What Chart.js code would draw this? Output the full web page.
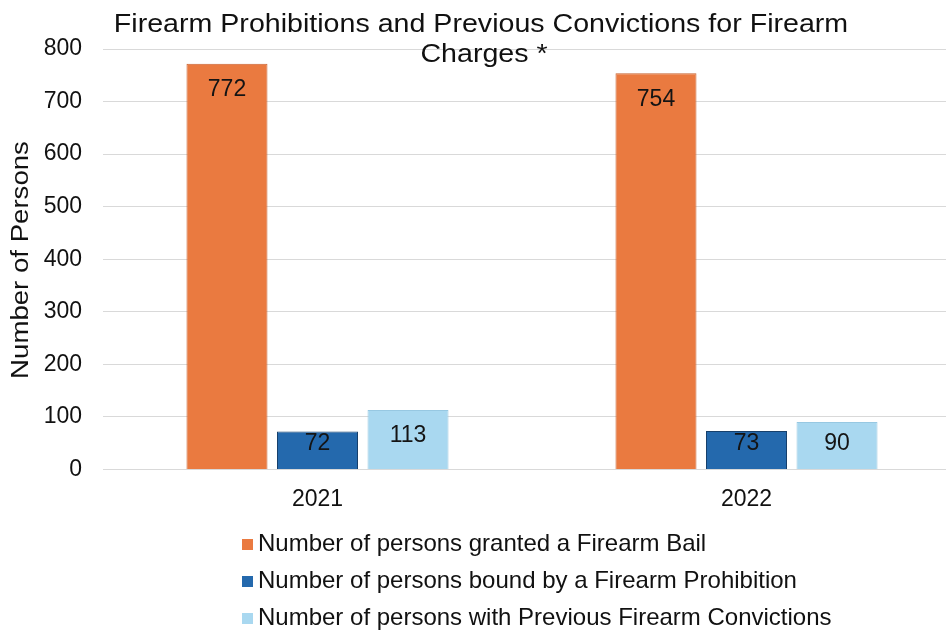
<!DOCTYPE html>
<html lang="en">
<head>
  <meta charset="UTF-8">
  <title>Firearm Prohibitions and Previous Convictions</title>
  <style>
    body {
      margin: 0;
      padding: 0;
      background: #ffffff;
      overflow: hidden;
    }
    .frame {
      width: 946px;
      height: 633px;
      overflow: hidden;
    }
    /* plot runs a little past the right edge of the frame */
    .chart-container {
      width: 961px;
      height: 633px;
      position: relative;
    }
  </style>
</head>
<body>
  <div class="frame">
    <div class="chart-container">
      <canvas id="barChart"></canvas>
    </div>
  </div>

  <script src="https://cdn.jsdelivr.net/npm/chart.js"></script>
  <script>
    const years = ['2021', '2022'];
    const seriesNames = [
      'Number of persons granted a Firearm Bail',
      'Number of persons bound by a Firearm Prohibition',
      'Number of persons with Previous Firearm Convictions'
    ];
    const bailCounts = [772, 754];
    const prohibitionCounts = [72, 73];
    const convictionCounts = [113, 90];
    const yTicks = [0, 100, 200, 300, 400, 500, 600, 700, 800];
    const titleLines = ['Firearm Prohibitions and Previous Convictions for Firearm', 'Charges *'];
    const yTitle = 'Number of Persons';

    const FONT = "'Liberation Sans', Arial, sans-serif";
    const fills = ['#ea7a40', '#2469ad', '#a9d8f0'];
    const edges = ['#c9622f', '#17406b', '#97c8e2'];

    // draw text slightly widened (the original lettering runs wide)
    function wideText(ctx, text, x, y, sx) {
      ctx.save();
      ctx.translate(x, y);
      ctx.scale(sx, 1);
      ctx.fillText(text, 0, 0);
      ctx.restore();
    }

    // title sits over the top of the plot, drawn by hand
    const titlePlugin = {
      id: 'overTitle',
      afterDraw(chart) {
        const ctx = chart.ctx;
        ctx.save();
        ctx.fillStyle = '#111';
        ctx.font = '26px ' + FONT;
        ctx.textAlign = 'center';
        ctx.textBaseline = 'alphabetic';
        wideText(ctx, titleLines[0], 481, 32, 1.1);
        wideText(ctx, titleLines[1], 484, 62, 1.1);
        ctx.restore();
      }
    };

    // rotated y axis title
    const yTitlePlugin = {
      id: 'yTitle',
      afterDraw(chart) {
        const ctx = chart.ctx;
        ctx.save();
        ctx.fillStyle = '#111';
        ctx.font = '23px ' + FONT;
        ctx.textAlign = 'center';
        ctx.textBaseline = 'middle';
        ctx.translate(22, 260);
        ctx.rotate(-Math.PI / 2);
        ctx.scale(1.2, 1);
        ctx.fillText(yTitle, 0, 0);
        ctx.restore();
      }
    };

    // value labels near the top of each bar
    const valuePlugin = {
      id: 'valueLabels',
      afterDatasetsDraw(chart) {
        const ctx = chart.ctx;
        ctx.save();
        ctx.fillStyle = '#141414';
        ctx.font = '23px ' + FONT;
        ctx.textAlign = 'center';
        ctx.textBaseline = 'middle';
        chart.data.datasets.forEach((ds, i) => {
          chart.getDatasetMeta(i).data.forEach((bar, j) => {
            const y = Math.min(bar.y + 26, bar.base - 25);
            ctx.fillText(String(ds.data[j]), bar.x, y);
          });
        });
        ctx.restore();
      }
    };

    // stacked legend under the axis
    const legendPlugin = {
      id: 'stackLegend',
      afterDraw(chart) {
        const ctx = chart.ctx;
        ctx.save();
        ctx.font = '24px ' + FONT;
        ctx.textBaseline = 'middle';
        chart.data.datasets.forEach((ds, i) => {
          const y = 544 + i * 37;
          ctx.fillStyle = ds.backgroundColor;
          ctx.fillRect(242, y - 5, 11, 11);
          ctx.fillStyle = '#111';
          ctx.fillText(ds.label, 258, y);
        });
        ctx.restore();
      }
    };

    const counts = [bailCounts, prohibitionCounts, convictionCounts];

    new Chart(document.getElementById('barChart').getContext('2d'), {
      type: 'bar',
      data: {
        labels: years,
        datasets: counts.map((vals, i) => ({
          label: seriesNames[i],
          data: vals,
          backgroundColor: fills[i],
          borderColor: edges[i],
          borderWidth: 1,
          barPercentage: 0.895,
          categoryPercentage: 0.633
        }))
      },
      options: {
        responsive: true,
        maintainAspectRatio: false,
        animation: false,
        layout: {
          padding: { top: 49, right: 0, bottom: 112, left: 0 }
        },
        scales: {
          x: {
            grid: { display: false },
            border: { display: false },
            ticks: {
              color: '#111',
              padding: 8,
              font: { family: FONT, size: 23 }
            }
          },
          y: {
            min: 0,
            max: 800,
            afterBuildTicks(axis) {
              axis.ticks = yTicks.map(v => ({ value: v }));
            },
            afterFit(axis) {
              axis.width = 103;
            },
            grid: { color: '#d9d9d9', lineWidth: 1, drawTicks: false },
            border: { display: false },
            ticks: {
              color: '#111',
              padding: 21,
              font: { family: FONT, size: 23 }
            }
          }
        },
        plugins: {
          legend: { display: false },
          title: { display: false },
          tooltip: { enabled: false }
        }
      },
      plugins: [titlePlugin, yTitlePlugin, valuePlugin, legendPlugin]
    });
  </script>
</body>
</html>
